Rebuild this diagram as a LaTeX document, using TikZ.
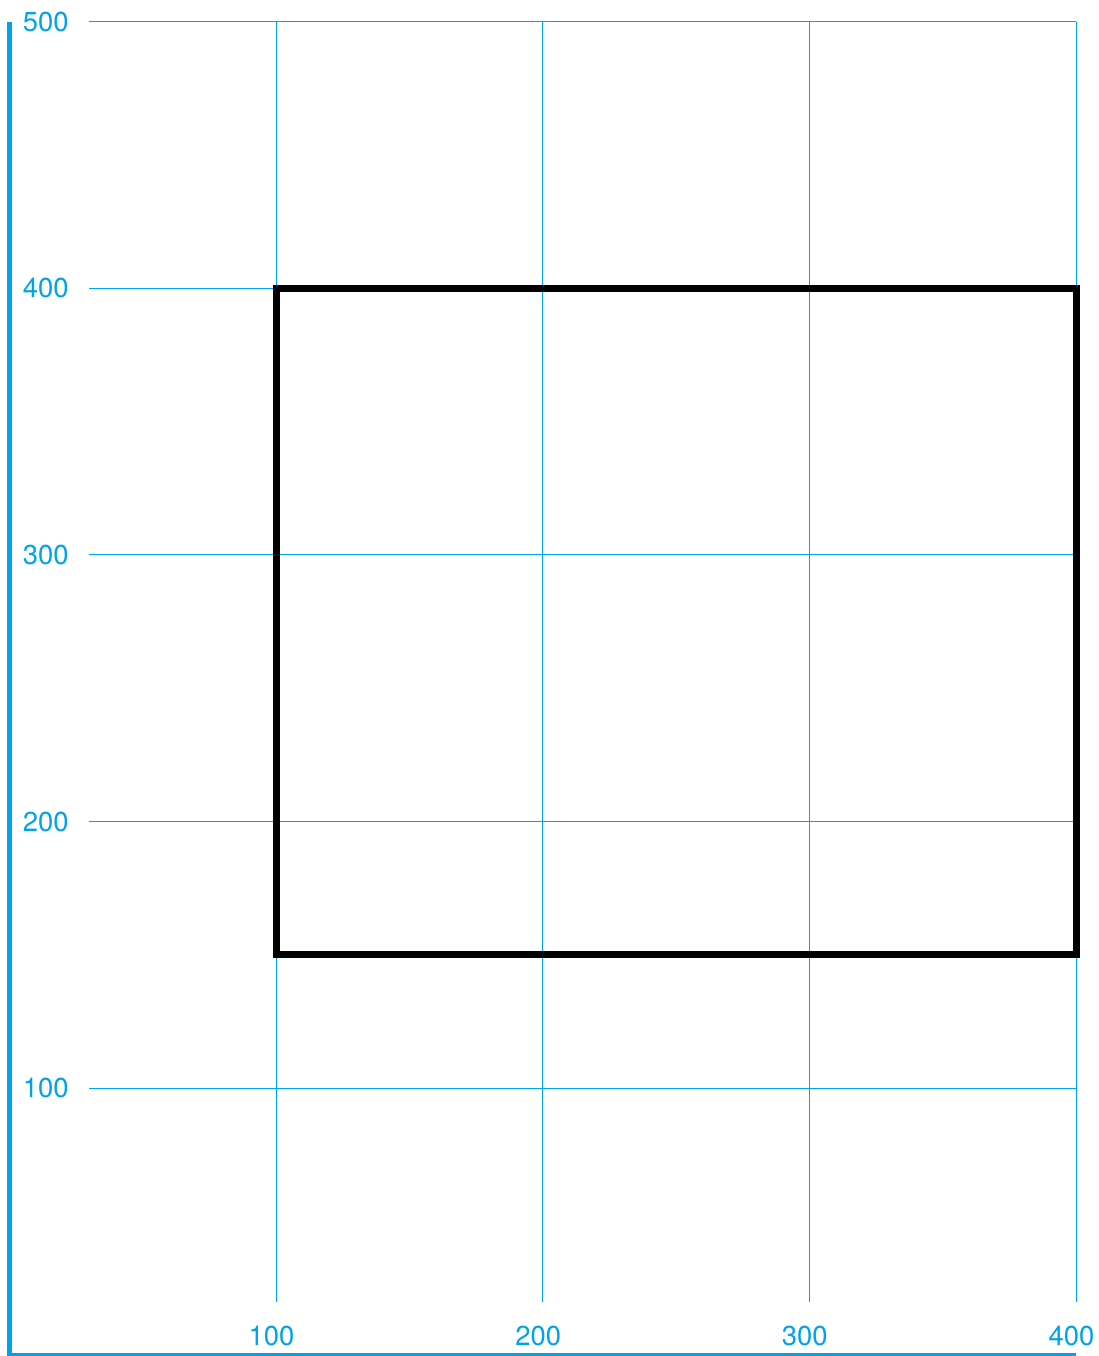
\documentclass[tikz,border=0pt]{standalone}
\usepackage{fontspec}
\setmainfont{TeX Gyre Heros}
\usetikzlibrary{positioning}
\definecolor{gridblue}{RGB}{0,163,232}
\tikzset{gridline/.style={gridblue,line width=0.7pt},axisline/.style={gridblue,line width=3.1pt},boxline/.style={black,line width=5pt,line join=miter},ticklabel/.style={gridblue,font=\fontsize{19.5}{19.5}\selectfont,inner sep=0pt}}

\begin{document}
\begin{tikzpicture}[x=0.6667mm,y=0.6667mm]
\useasboundingbox (-3.5,-0.375) rectangle (408.3,508.1);
% grid and labels
\foreach \y in {100,200,...,500} {
\draw[gridline] (30,\y) -- (400,\y);
\node (ly\y) at (5,\y) [ticklabel,anchor=west] {\y};
}
\foreach \x in {100,200,300,400} {
\draw[gridline] (\x,20) -- (\x,500);
\node (lx\x) at (\x-1.7,7.1) [ticklabel] {\x};
}
% axes
\draw[axisline] (0,500) -- (0,0) -- (400,0);
% box
\draw[boxline] (100,150) rectangle (400,400);
\end{tikzpicture}
\end{document}
